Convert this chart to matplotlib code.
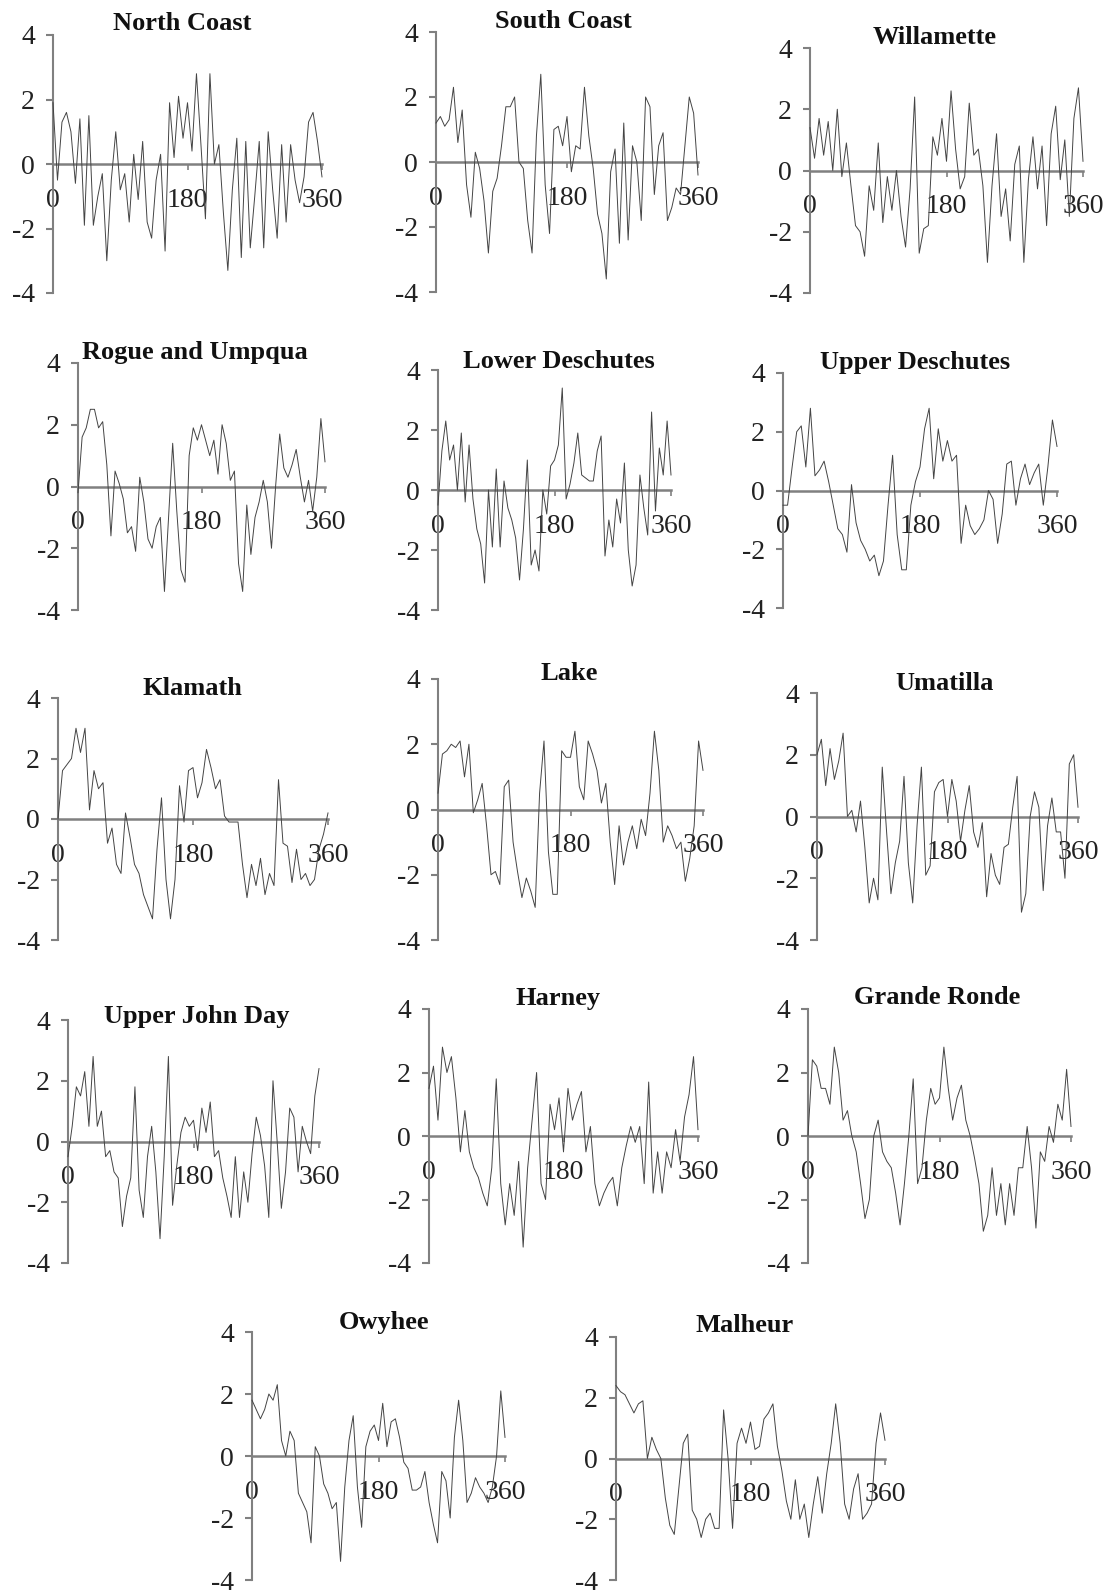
import numpy as np
import matplotlib
matplotlib.use("Agg")
import matplotlib.pyplot as plt

plt.rcParams['font.family'] = ['Liberation Serif', 'DejaVu Serif']
plt.rcParams['axes.unicode_minus'] = False

# months 0..360, every 6 months
months = np.arange(0, 361, 6)

north_coast = [1.9, -0.5, 1.3, 1.6, 1.0, -0.6, 1.4, -1.9, 1.5, -1.9, -1.0, -0.3, -3.0, -0.5, 1.0, -0.8,
               -0.3, -1.8, 0.3, -1.1, 0.7, -1.8, -2.3, -0.5, 0.3, -2.7, 1.9, 0.2, 2.1, 0.8, 1.9, 0.4,
               2.8, 0.6, -1.7, 2.8, 0.0, 0.6, -1.5, -3.3, -0.8, 0.8, -2.9, 0.7, -2.6, -1.0, 0.7, -2.6,
               1.0, -0.8, -2.3, 0.6, -1.8, 0.6, -0.5, -1.2, -0.4, 1.3, 1.6, 0.7, -0.4]
south_coast = [1.2, 1.4, 1.1, 1.3, 2.3, 0.6, 1.6, -0.7, -1.7, 0.3, -0.2, -1.2, -2.8, -0.9, -0.5, 0.5,
               1.7, 1.7, 2.0, 0.0, -0.2, -1.8, -2.8, 0.8, 2.7, -0.7, -2.2, 1.0, 1.1, 0.5, 1.4, -0.3,
               0.5, 0.4, 2.3, 0.8, -0.2, -1.6, -2.2, -3.6, -0.3, 0.4, -2.5, 1.2, -2.4, 0.5, 0.0, -1.8,
               2.0, 1.7, -1.0, 0.5, 0.9, -1.8, -1.4, -0.8, -1.0, 0.5, 2.0, 1.5, -0.4]
willamette = [1.4, 0.4, 1.7, 0.5, 1.6, 0.0, 2.0, -0.2, 0.9, -0.5, -1.8, -2.0, -2.8, -0.5, -1.3, 0.9,
              -1.7, -0.2, -1.3, 0.0, -1.5, -2.5, -0.6, 2.4, -2.7, -1.9, -1.8, 1.1, 0.5, 1.7, 0.3, 2.6,
              0.7, -0.6, -0.2, 2.2, 0.5, 0.7, -0.5, -3.0, -0.5, 1.2, -1.5, -0.6, -2.3, 0.2, 0.8, -3.0,
              -0.3, 1.1, -0.6, 0.8, -1.8, 1.2, 2.1, -0.3, 1.0, -1.5, 1.7, 2.7, 0.3]
rogue_umpqua = [-0.2, 1.6, 1.9, 2.5, 2.5, 1.9, 2.1, 0.7, -1.6, 0.5, 0.1, -0.4, -1.5, -1.3, -2.1, 0.3,
                -0.5, -1.7, -2.0, -1.3, -1.0, -3.4, -1.0, 1.4, -0.8, -2.7, -3.1, 1.0, 1.9, 1.5, 2.0, 1.5,
                1.0, 1.5, 0.4, 2.0, 1.4, 0.2, 0.5, -2.5, -3.4, -0.6, -2.2, -1.0, -0.5, 0.2, -0.5, -2.0,
                0.0, 1.7, 0.6, 0.3, 0.7, 1.2, 0.3, -0.5, 0.2, -0.8, 0.3, 2.2, 0.8]
lower_deschutes = [-0.5, 1.3, 2.3, 1.0, 1.5, 0.0, 1.9, -0.4, 1.5, -0.3, -1.3, -1.8, -3.1, 0.0, -1.9, 0.7,
                   -1.9, 0.3, -0.6, -1.0, -1.6, -3.0, -1.3, 1.0, -2.5, -2.0, -2.7, 0.0, -0.8, 0.8, 1.0, 1.5,
                   3.4, -0.3, 0.2, 0.9, 1.9, 0.5, 0.4, 0.3, 0.3, 1.3, 1.8, -2.2, -1.0, -1.9, -0.3, -1.1,
                   0.9, -2.0, -3.2, -2.5, 0.5, -0.6, -1.5, 2.6, -0.7, 1.4, 0.5, 2.3, 0.5]
upper_deschutes = [-0.5, -0.5, 0.8, 2.0, 2.2, 0.8, 2.8, 0.5, 0.7, 1.0, 0.3, -0.5, -1.3, -1.5, -2.1, 0.2,
                   -1.1, -1.7, -2.0, -2.4, -2.2, -2.9, -2.4, -0.5, 1.2, -1.5, -2.7, -2.7, -0.5, 0.3, 0.8, 2.1,
                   2.8, 0.4, 2.1, 1.0, 1.7, 1.0, 1.2, -1.8, -0.5, -1.2, -1.5, -1.3, -1.0, 0.0, -0.3, -1.8,
                   -0.8, 0.9, 1.0, -0.5, 0.4, 0.9, 0.2, 0.6, 0.9, -0.5, 0.8, 2.4, 1.5]
klamath = [0.0, 1.6, 1.8, 2.0, 3.0, 2.2, 3.0, 0.3, 1.6, 1.0, 1.2, -0.8, -0.3, -1.5, -1.8, 0.2,
           -0.6, -1.5, -1.8, -2.5, -2.9, -3.3, -1.0, 0.7, -2.0, -3.3, -2.0, 1.1, -0.1, 1.6, 1.7, 0.7,
           1.2, 2.3, 1.7, 1.0, 1.3, 0.1, -0.1, -0.1, -0.1, -1.5, -2.6, -1.5, -2.2, -1.3, -2.5, -1.8,
           -2.2, 1.3, -0.8, -0.9, -2.1, -1.0, -2.0, -1.8, -2.2, -2.0, -1.0, -0.5, 0.2]
lake = [0.5, 1.7, 1.8, 2.0, 1.9, 2.1, 1.0, 2.0, -0.1, 0.3, 0.8, -0.5, -2.0, -1.9, -2.3, 0.7,
        0.9, -1.0, -1.9, -2.7, -2.1, -2.5, -3.0, 0.5, 2.1, -1.3, -2.6, -2.6, 1.8, 1.6, 1.6, 2.4,
        0.7, 0.3, 2.1, 1.7, 1.2, 0.2, 0.8, -1.0, -2.3, -0.5, -1.7, -1.0, -0.5, -1.2, -0.3, -0.8,
        0.5, 2.4, 1.2, -1.0, -0.5, -0.8, -1.2, -1.0, -2.2, -1.5, -0.5, 2.1, 1.2]
umatilla = [2.0, 2.5, 1.0, 2.2, 1.2, 1.8, 2.7, 0.0, 0.2, -0.5, 0.5, -1.0, -2.8, -2.0, -2.7, 1.6,
            -0.5, -2.5, -1.5, -0.8, 1.3, -1.5, -2.8, -0.3, 1.6, -1.9, -1.6, 0.8, 1.1, 1.2, 0.0, 1.2,
            0.5, -0.8, 0.2, 1.0, -0.5, -1.0, -0.2, -2.6, -1.2, -1.9, -2.2, -1.0, -0.9, 0.3, 1.3, -3.1,
            -2.5, 0.0, 0.8, 0.3, -2.4, -0.3, 0.6, -0.5, -0.5, -2.0, 1.7, 2.0, 0.3]
upper_john_day = [-0.5, 0.5, 1.8, 1.5, 2.3, 0.5, 2.8, 0.5, 1.0, -0.5, -0.3, -1.0, -1.2, -2.8, -1.8, -1.2,
                  1.8, -1.6, -2.5, -0.5, 0.5, -1.0, -3.2, -0.5, 2.8, -2.1, -0.8, 0.3, 0.8, 0.5, 0.7, -0.3,
                  1.1, 0.3, 1.3, -0.5, -0.3, -1.2, -1.8, -2.5, -0.5, -2.5, -1.0, -2.0, -0.4, 0.8, 0.2, -0.8,
                  -2.5, 2.0, 0.0, -2.2, -1.0, 1.1, 0.8, -1.0, 0.5, 0.0, -0.4, 1.5, 2.4]
harney = [1.5, 2.2, 0.5, 2.8, 2.0, 2.5, 1.2, -0.5, 0.8, -0.5, -1.0, -1.3, -1.8, -2.2, -1.0, 1.8,
          -1.5, -2.8, -1.5, -2.5, -0.8, -3.5, -1.0, 0.5, 2.0, -1.5, -2.0, 1.0, 0.2, 1.2, -0.5, 1.5,
          0.5, 1.0, 1.4, -0.5, 0.3, -1.5, -2.2, -1.8, -1.5, -1.3, -2.2, -1.0, -0.3, 0.3, -0.2, 0.3,
          -1.5, 1.7, -1.8, -0.5, -1.8, -0.5, -1.0, 0.2, -0.8, 0.6, 1.3, 2.5, 0.2]
grande_ronde = [0.0, 2.4, 2.2, 1.5, 1.5, 1.0, 2.8, 2.0, 0.5, 0.8, 0.0, -0.5, -1.5, -2.6, -2.0, 0.0,
                0.5, -0.5, -0.8, -1.0, -1.8, -2.8, -1.5, 0.0, 1.8, -1.5, -1.0, 0.5, 1.5, 1.0, 1.2, 2.8,
                1.5, 0.5, 1.2, 1.6, 0.5, 0.0, -0.7, -1.5, -3.0, -2.5, -1.0, -2.5, -1.5, -2.8, -1.5, -2.5,
                -1.0, -1.0, 0.3, -1.0, -2.9, -0.5, -0.8, 0.3, -0.2, 1.0, 0.5, 2.1, 0.3]
owyhee = [1.8, 1.5, 1.2, 1.5, 2.0, 1.8, 2.3, 0.5, 0.0, 0.8, 0.5, -1.2, -1.5, -1.8, -2.8, 0.3,
          0.0, -0.9, -1.2, -1.7, -1.5, -3.4, -1.0, 0.5, 1.3, -1.0, -2.3, 0.3, 0.8, 1.0, 0.5, 1.7,
          0.3, 1.1, 1.2, 0.6, -0.2, -0.4, -1.1, -1.1, -1.0, -0.5, -1.5, -2.2, -2.8, -0.5, -0.8, -2.0,
          0.6, 1.8, 0.5, -1.5, -1.2, -0.7, -1.0, -1.2, -1.5, -1.0, 0.0, 2.1, 0.6]
malheur = [2.4, 2.2, 2.1, 1.8, 1.5, 1.8, 1.9, 0.0, 0.7, 0.3, 0.0, -1.3, -2.2, -2.5, -1.0, 0.5,
           0.8, -1.7, -2.0, -2.6, -2.0, -1.8, -2.3, -2.3, 1.6, 0.0, -2.3, 0.5, 1.0, 0.5, 1.2, 0.3,
           0.4, 1.3, 1.5, 1.8, 0.4, -0.4, -1.4, -2.0, -0.7, -2.0, -1.5, -2.6, -1.5, -0.6, -1.8, -0.5,
           0.5, 1.8, 0.5, -1.5, -2.0, -1.0, -0.5, -2.0, -1.8, -1.5, 0.5, 1.5, 0.6]

titles = ["North Coast", "South Coast", "Willamette",
          "Rogue and Umpqua", "Lower Deschutes", "Upper Deschutes",
          "Klamath", "Lake", "Umatilla",
          "Upper John Day", "Harney", "Grande Ronde",
          "Owyhee", "Malheur"]
series = [north_coast, south_coast, willamette,
          rogue_umpqua, lower_deschutes, upper_deschutes,
          klamath, lake, umatilla,
          upper_john_day, harney, grande_ronde,
          owyhee, malheur]

x_ticks = [0, 180, 360]
y_ticks = [-4, -2, 0, 2, 4]

W, H = 1107, 1593

# pixel boxes: x of y-axis, x of 360, y of +4, y of -4 ; title centre
boxes = [(53, 322, 35, 293), (436, 698, 32, 292), (810, 1083, 48, 293),
         (78, 325, 363, 610), (438, 671, 370, 610), (783, 1057, 373, 608),
         (58, 328, 698, 940), (438, 703, 679, 940), (817, 1078, 693, 940),
         (68, 319, 1020, 1263), (429, 698, 1009, 1263), (808, 1071, 1009, 1263),
         (252, 505, 1332, 1580), (616, 885, 1337, 1580)]
title_pos = [(182, 24), (563, 21), (935, 37),
             (195, 352), (559, 362), (915, 363),
             (192, 688), (569, 673), (945, 683),
             (197, 1017), (558, 998), (937, 998),
             (384, 1322), (745, 1325)]

fig = plt.figure(figsize=(W / 100, H / 100), dpi=100)
fig.patch.set_facecolor("white")

axis_grey = "#808080"

for name, vals, box, tp in zip(titles, series, boxes, title_pos):
    x0, x1, y0, y1 = box
    ax = fig.add_axes([x0 / W, 1 - y1 / H, (x1 - x0) / W, (y1 - y0) / H])
    ax.plot(months, vals, color="#444444", lw=0.7, clip_on=False, zorder=3)
    ax.set_xlim(0, 360)
    ax.set_ylim(-4, 4)
    ax.set_xticks(x_ticks)
    ax.set_yticks(y_ticks)
    ax.patch.set_alpha(0)
    for s in ["top", "right"]:
        ax.spines[s].set_visible(False)
    ax.spines["bottom"].set_position(("data", 0))
    ax.spines["bottom"].set_color(axis_grey)
    ax.spines["bottom"].set_linewidth(1.8)
    ax.spines["left"].set_color(axis_grey)
    ax.spines["left"].set_linewidth(1.5)
    ax.tick_params(axis="y", length=5, width=1.5, color=axis_grey, pad=8,
                   labelsize=20, labelcolor="#222222")
    ax.tick_params(axis="x", length=4, width=1.2, color=axis_grey, pad=13,
                   labelsize=20, labelcolor="#222222")
    fig.text(tp[0] / W, 1 - tp[1] / H, name, ha="center", va="center",
             fontsize=19, fontweight="bold", color="#111111")

fig.savefig("out.png", dpi=100, facecolor="white")
